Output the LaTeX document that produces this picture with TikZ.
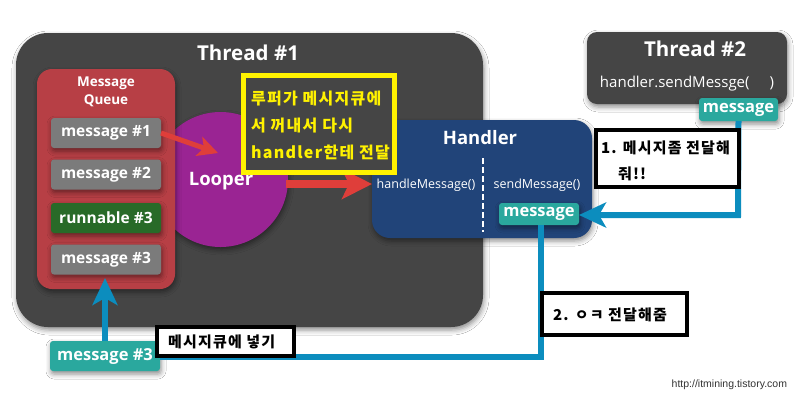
\documentclass[tikz,border=0pt]{standalone}
\usepackage{fontspec}
\setmainfont{Open Sans}
\newfontfamily\kr{Noto Sans CJK KR}[LetterSpace=8]
\newfontfamily\urlfont{Liberation Sans}
\usetikzlibrary{arrows.meta,shadows.blur}
\definecolor{thdark}{HTML}{454545}
\definecolor{mqred}{HTML}{B73F45}
\definecolor{msggray}{HTML}{7B7B7B}
\definecolor{rungreen}{HTML}{286A28}
\definecolor{looperpurple}{HTML}{9A2493}
\definecolor{handlerblue}{HTML}{214479}
\definecolor{tealc}{HTML}{2AA89E}
\definecolor{lineblue}{HTML}{0C8DBE}
\definecolor{arrowred}{HTML}{DF3E3A}
\definecolor{ylw}{HTML}{FFF200}
\tikzset{
  shad/.style={blur shadow={shadow xshift=1pt, shadow yshift=-3pt, shadow blur radius=5pt, shadow opacity=45}},
  threadbox/.style={shad, fill=thdark},
  qbox/.style={shad, fill=mqred, rounded corners=15pt},
  itembox/.style={shad, rounded corners=3pt, minimum width=110pt, minimum height=30pt, text=white, font=\bfseries\fontsize{15.5}{18}\selectfont},
  tealbox/.style={shad, fill=tealc, rounded corners=3pt, text=white, font=\bfseries\fontsize{16.5}{19}\selectfont},
  notebox/.style={draw=black, line width=4pt, fill=white},
  notetxt/.style={text=black, font=\kr\bfseries\fontsize{15}{18}\selectfont, anchor=west},
  blueline/.style={draw=lineblue, line width=6pt},
  bluearrow/.style={blueline, -{Stealth[length=27pt, width=25pt, inset=7pt]}},
  redarrowA/.style={draw=arrowred, line width=5pt, -{Stealth[length=20pt, width=20pt, inset=5pt]}},
  redarrowB/.style={draw=arrowred, line width=8pt, -{Stealth[length=30pt, width=30pt, inset=7pt]}},
  wtxt/.style={text=white},
  titletxt/.style={text=white, font=\bfseries\fontsize{20.5}{24}\selectfont}
}
\begin{document}
\begin{tikzpicture}[x=1pt, y=-1pt, every node/.style={inner sep=0pt, outer sep=0pt}]
\useasboundingbox (0,0) rectangle (800,400);
\fill[white] (0,0) rectangle (800,400);

% Thread #1
\node[threadbox, rounded corners=32pt, minimum width=467pt, minimum height=294pt] (t1) at (249.5,180) {};
\node[titletxt] (t1t) at (248,53) {Thread \#1};

% Looper
\node[circle, fill=looperpurple, minimum size=135pt, shad] (lp) at (220.5,179.5) {};
\node[wtxt, font=\bfseries\fontsize{18.5}{22}\selectfont] (lpt) at (221,181) {Looper};

% Message queue
\node[qbox, minimum width=138pt, minimum height=220pt] (mq) at (106,179) {};
\node[wtxt, align=center, font=\bfseries\fontsize{13.5}{18}\selectfont] (mqt) at (106,92) {Message\\Queue};
\node[itembox, fill=msggray] (m1) at (106,133) {message \#1};
\node[itembox, fill=msggray] (m2) at (106,174.5) {message \#2};
\node[itembox, fill=rungreen] (r3) at (106,218) {runnable \#3};
\node[itembox, fill=msggray] (m3) at (106,259.5) {message \#3};

% Handler
\node[shad, fill=handlerblue, rounded corners=18pt, minimum width=220pt, minimum height=118pt] (hd) at (482,179) {};
\node[wtxt, font=\bfseries\fontsize{18.5}{22}\selectfont] (hdt) at (480,138) {Handler};
\coordinate (dtop) at (483,158);
\coordinate (dbot) at (483,232);
\draw[white, line width=1.2pt, dash pattern=on 6pt off 3pt] (dtop) -- (dbot);
\node[wtxt, font=\fontsize{12.5}{14}\selectfont] (hm) at (426,185) {handleMessage()};
\node[wtxt, font=\fontsize{12.5}{14}\selectfont] (sm) at (537,185) {sendMessage()};
\node[tealbox, minimum width=80pt, minimum height=22pt] (hmsg) at (539,214) {message};

% Red arrows
\coordinate (lpin) at (218,153);
\draw[redarrowA] (m1.east) -- (lpin);
\coordinate (ra2s) at (286,184);
\draw[redarrowB] (ra2s) -- (hd.west |- ra2s);

% Yellow note
\node[draw=ylw, line width=5pt, fill=thdark, minimum width=151pt, minimum height=97pt] (yb) at (318.5,123.5) {};
\node[anchor=west, text=ylw, font=\kr\bfseries\fontsize{16}{27}\selectfont, align=left] (ybt) at (251,125) {루퍼가 메시지큐에\\서 꺼내서 다시\\handler한테 전달};

% Thread #2
\node[threadbox, rounded corners=10pt, minimum width=200pt, minimum height=72pt] (t2) at (687,68) {};
\node[titletxt] (t2t) at (695,49) {Thread \#2};
\node[wtxt, font=\fontsize{15}{18}\selectfont] (t2c) at (687,84) {handler.sendMessge(\hspace{20pt})};
\node[tealbox, minimum width=79pt, minimum height=23pt] (t2m) at (738.5,109.5) {message};

% Blue connectors
\coordinate (c1) at (738,215);
\draw[bluearrow] (t2m.south) -- (c1) -- (hmsg.east |- c1);
\coordinate (c2) at (541,357);
\node[tealbox, minimum width=110pt, minimum height=30pt] (m3t) at (105,356) {message \#3};
\draw[blueline] (hmsg.south -| c2) -- (c2) -- (m3t.east |- c2);
\coordinate (c3) at (105,278);
\draw[bluearrow] (m3t.north) -- (c3);

% Note boxes
\node[notebox, minimum width=143pt, minimum height=57pt] (n1) at (667.5,158.5) {};
\node[notetxt] (n1a) at (601,148) {1. 메시지좀 전달해};
\node[notetxt] (n1b) at (618,174) {줘!!};
\node[notebox, minimum width=145pt, minimum height=42pt] (n2) at (614.5,314) {};
\node[notetxt] (n2a) at (553,315) {2. ㅇㅋ 전달해줌};
\node[notebox, minimum width=137pt, minimum height=29pt] (n3) at (225.5,341.5) {};
\node[notetxt] (n3a) at (168,342) {메시지큐에 넣기};

% URL
\node[anchor=east, text=black!80, font=\urlfont\fontsize{10.5}{12}\selectfont] (url) at (787,385) {http://itmining.tistory.com};
\end{tikzpicture}
\end{document}
